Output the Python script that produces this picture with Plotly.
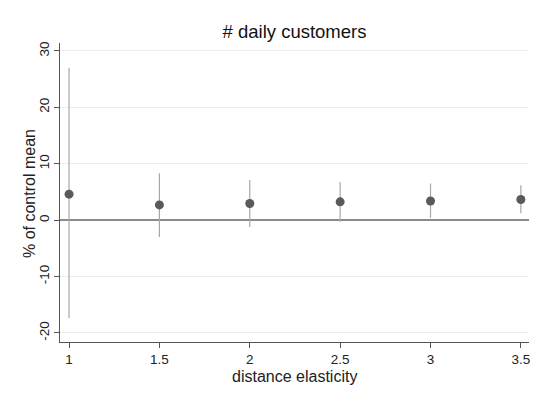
import plotly.graph_objects as go

elasticity = [1.0, 1.5, 2.0, 2.5, 3.0, 3.5]
estimate = [4.6, 2.7, 2.95, 3.25, 3.4, 3.65]
ci_upper = [27.0, 8.3, 7.1, 6.8, 6.5, 6.2]
ci_lower = [-17.4, -3.0, -1.2, -0.3, 0.4, 1.2]

err_plus = [u - e for u, e in zip(ci_upper, estimate)]
err_minus = [e - l for e, l in zip(estimate, ci_lower)]

x_ticks = [1, 1.5, 2, 2.5, 3, 3.5]
x_labels = ["1", "1.5", "2", "2.5", "3", "3.5"]
y_ticks = [-20, -10, 0, 10, 20, 30]
y_labels = ["-20", "-10", "0", "10", "20", "30"]

fig = go.Figure()
fig.add_trace(go.Scatter(
    x=elasticity, y=estimate, mode="markers",
    marker=dict(color="#5a5a5a", size=9),
    error_y=dict(type="data", symmetric=False, array=err_plus, arrayminus=err_minus,
                 color="#a8a8a8", thickness=1.2, width=0),
    showlegend=False, cliponaxis=False,
))

font_family = "Liberation Sans, Arial, sans-serif"
L, R, T, B = 60, 11, 43, 55
W, H = 540, 397
pw, ph = W - L - R, H - T - B
fig.update_layout(
    width=W, height=H,
    margin=dict(l=L, r=R, t=T, b=B, autoexpand=False),
    paper_bgcolor="white", plot_bgcolor="white",
    font=dict(family=font_family, color="#222"),
    title=dict(text="# daily customers", x=0.5, xanchor="center", xref="paper",
               y=1 - 32/397, yanchor="middle", font=dict(size=18.5, color="#111")),
    annotations=[
        dict(text="distance elasticity", xref="paper", yref="paper",
             x=0.5, y=-(376 - (T + ph)) / ph, xanchor="center", yanchor="middle",
             showarrow=False, font=dict(size=16, color="#222")),
        dict(text="% of control mean", xref="paper", yref="paper",
             x=(29 - L) / pw, y=0.5 - (194 - (T + ph / 2)) / ph, xanchor="center", yanchor="middle",
             textangle=-90, showarrow=False, font=dict(size=16, color="#222")),
    ],
)
fig.update_xaxes(
    range=[0.95, 3.545], tickvals=x_ticks, ticktext=x_labels,
    showgrid=False, zeroline=False, automargin=False,
    showline=True, linecolor="#555", linewidth=1,
    ticks="outside", ticklen=5, tickcolor="#555",
    tickfont=dict(size=13.5, color="#222"),
)
fig.update_yaxes(
    range=[-21.6, 31.4], tickvals=y_ticks, ticktext=y_labels, tickangle=-90,
    showgrid=True, gridcolor="#ececec", gridwidth=1,
    zeroline=True, zerolinecolor="#8a8a8a", zerolinewidth=1.6, automargin=False,
    showline=True, linecolor="#555", linewidth=1,
    ticks="outside", ticklen=5, tickcolor="#555",
    tickfont=dict(size=13.5, color="#222"),
)

fig.write_html("out.html", config={"displayModeBar": False},
               post_script="document.body.style.margin='0';document.body.style.overflow='hidden';")
